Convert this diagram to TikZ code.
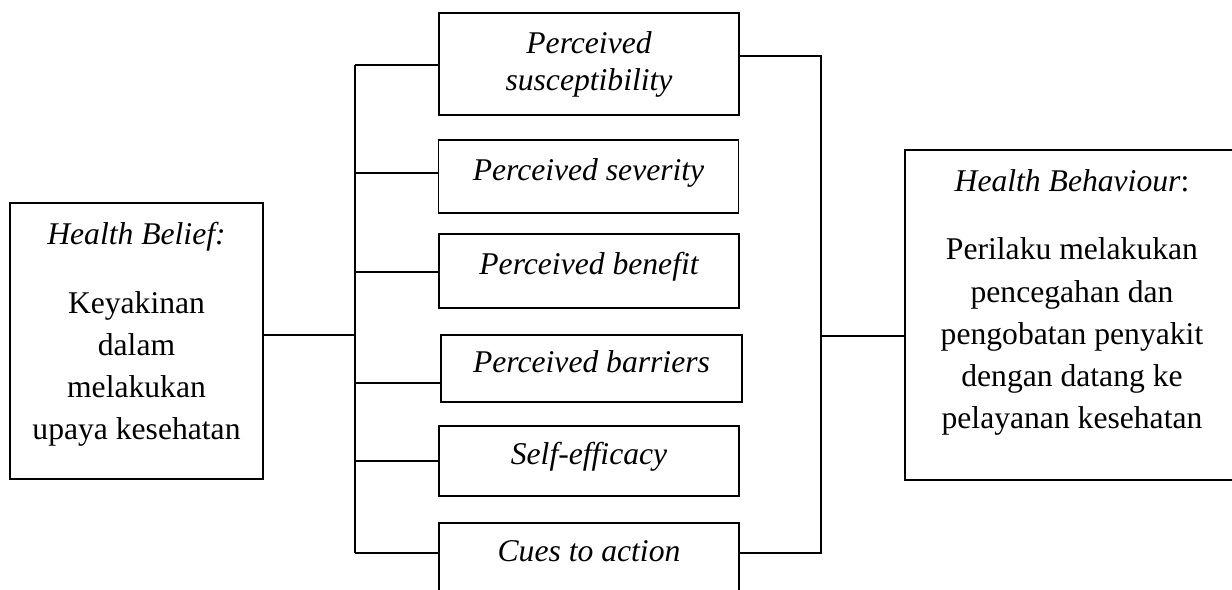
\documentclass[tikz,border=0pt]{standalone}
\usepackage{fontspec}
\setmainfont{Liberation Serif}
\usetikzlibrary{positioning}

\begin{document}
\begin{tikzpicture}[x=0.02cm,y=-0.02cm,line width=1pt,
		box/.style={draw,inner sep=0pt,minimum width=6cm,font=\fontsize{18}{21}\selectfont\itshape,text height=0.7em,text depth=0.25em,align=center},
		bigbox/.style={draw,inner sep=0pt},
		bigtext/.style={inner sep=0pt,anchor=north,align=center,font=\fontsize{18}{24}\selectfont}]
			\useasboundingbox (0,0) rectangle (1232,589);
			\clip (0,0) rectangle (1232,589);
			
			\node[bigbox,minimum width=5.06cm,minimum height=5.52cm] (belief) at (136.5,341) {};
			\node[bigtext] (belieftxt) at (136.5,221.5) {\textit{Health Belief:}\\[15pt]Keyakinan\\dalam\\melakukan\\upaya kesehatan};
			
			\node[box,minimum height=2.04cm,text height=,text depth=] (sus) at (589,64) {Perceived\\susceptibility};
			\node[box,minimum height=1.46cm] (sev) at (588.5,176.5) {Perceived severity};
			\node[box,minimum height=1.48cm] (ben) at (589,271) {Perceived benefit};
			\node[box,minimum width=6.02cm,minimum height=1.34cm] (bar) at (591.5,368.5) {Perceived barriers};
			\node[box,minimum height=1.4cm] (self) at (589,461) {Self-efficacy};
			\node[box,minimum height=1.4cm] (cues) at (589,558) {Cues to action};
			
			\node[bigbox,minimum width=6.68cm,minimum height=6.6cm] (behav) at (1072,315) {};
			\node[bigtext] (behavtxt) at (1072,168.5) {\textit{Health Behaviour}:\\[15pt]Perilaku melakukan\\pencegahan dan\\pengobatan penyakit\\dengan datang ke\\pelayanan kesehatan};
			
			% left trunk
			\coordinate (ltop) at (355,65);
			\coordinate (lbot) at (355,553);
			\coordinate (lmid) at (355,335);
			\draw (ltop) -- (lbot);
			\draw (lmid -| belief.east) -- (lmid);
			\foreach \b/\y in {sus/65,sev/173,ben/272,bar/383,self/461,cues/553}
				\draw (355,\y) -- (355,\y -| \b.west);
			
			% right trunk
			\coordinate (rtop) at (821,56);
			\coordinate (rbot) at (821,553);
			\coordinate (rmid) at (821,336);
			\draw (rtop -| sus.east) -- (rtop) -- (rbot) -- (rbot -| cues.east);
			\draw (rmid) -- (rmid -| behav.west);
			\end{tikzpicture}
\end{document}
